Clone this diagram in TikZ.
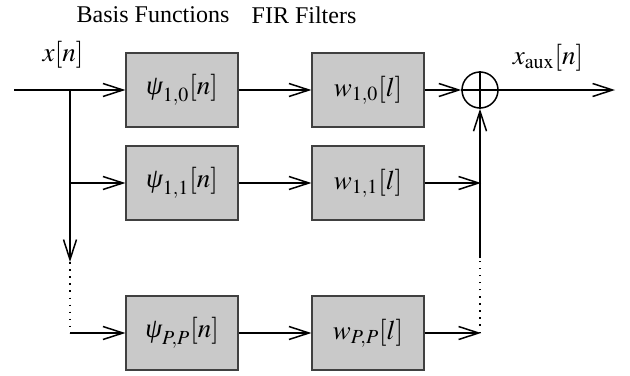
\documentclass[tikz,border=0pt]{standalone}
\usepackage{mathptmx}
\usepackage{fontspec}
\setmainfont{Liberation Serif}
\usetikzlibrary{arrows.meta}
\newcommand{\mypsi}{\mbox{\itshape ψ}}
\begin{document}
\begin{tikzpicture}[x=0.5pt,y=-0.5pt,
  blk/.style={draw=black!75, fill=black!21, minimum width=56pt, minimum height=37pt, inner sep=0pt, line width=0.6pt, font=\fontsize{13.5}{16}\selectfont},
  sig/.style={line width=0.75pt, -{Straight Barb[length=10pt,width=6.5pt]}},
  plain/.style={line width=0.75pt},
  dots/.style={line width=0.75pt, dash pattern=on 0.75pt off 2.8pt},
  sumnode/.style={draw, circle, line width=0.75pt, minimum size=18pt, inner sep=0pt},
  lbl/.style={font=\fontsize{12}{14}\selectfont, inner sep=0pt},
  mlbl/.style={font=\fontsize{13.5}{16}\selectfont, inner sep=0pt}
]
\useasboundingbox (0,0) rectangle (630,375);

\node[blk] (p1) at (182,90) {$\mypsi_{1,0}[n]$};
\node[blk] (p2) at (182,183) {$\mypsi_{1,1}[n]$};
\node[blk] (p3) at (182,333) {$\mypsi_{P,P}[n]$};
\node[blk] (w1) at (368,90) {$w_{1,0}[l]$};
\node[blk] (w2) at (368,183) {$w_{1,1}[l]$};
\node[blk] (w3) at (368,333) {$w_{P,P}[l]$};
\node[sumnode] (s) at (480,90) {};

\coordinate (in) at (14,90);
\coordinate (b1) at (70,90);
\coordinate (b2) at (70,183);
\coordinate (bd) at (70,262);
\coordinate (b3) at (70,333);
\coordinate (r2) at (481,183);
\coordinate (r3) at (481,333);
\coordinate (rv3) at (480,333);
\coordinate (rd) at (480,258);
\coordinate (out) at (615,90);

\draw[sig] (in) -- (p1);
\draw[sig] (b1) -- (bd);
\draw[sig] (b2) -- (p2);
\draw[dots] (bd) -- (b3);
\draw[sig] (b3) -- (p3);

\draw[sig] (p1) -- (w1);
\draw[sig] (p2) -- (w2);
\draw[sig] (p3) -- (w3);

\draw[sig] (w1) -- (s);
\draw[sig] (w2) -- (r2);
\draw[sig] (w3) -- (r3);
\draw[dots] (rv3) -- (rd);
\draw[sig] (rd) -- (s);
\draw[sig] (s) -- (out);
\draw[plain] (s.north) -- (s.south);
\draw[plain] (s.west) -- (s.east);

\node[mlbl] (xl) at (63,55) {$x[n]$};
\node[mlbl] (xa) at (548,58) {$x_{\mathrm{aux}}[n]$};
\node[lbl] (bf) at (153,15) {Basis Functions};
\node[lbl] (ff) at (304,15) {FIR Filters};
\end{tikzpicture}
\end{document}
